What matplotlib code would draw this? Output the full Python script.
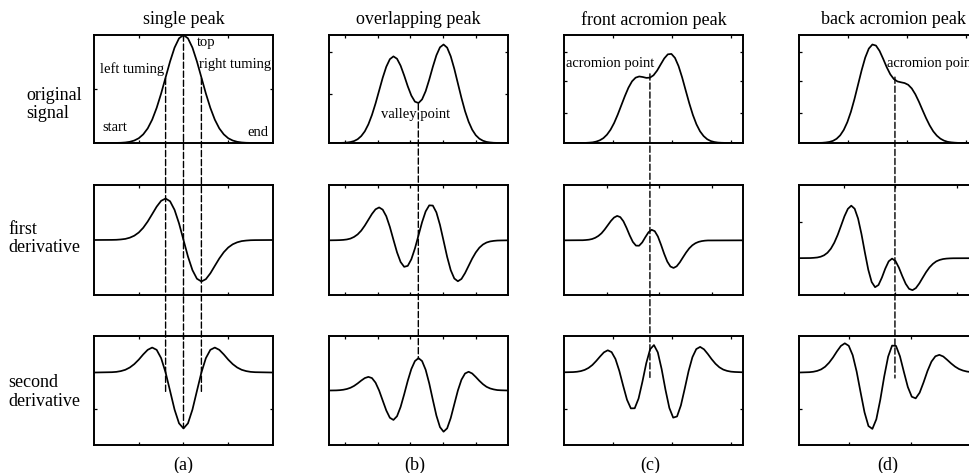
import matplotlib
matplotlib.use('Agg')
import matplotlib.pyplot as plt
from matplotlib.patches import ConnectionPatch

plt.rcParams['font.family'] = ['Liberation Serif', 'DejaVu Serif']

# ---------------- data (axis units 0..1) ----------------
col_titles = ['single peak', 'overlapping peak', 'front acromion peak', 'back acromion peak']
row_labels = ['original\nsignal', 'first\nderivative', 'second\nderivative']
panel_tags = ['(a)', '(b)', '(c)', '(d)']

# column (a) single peak
x_a = [0, 0.1, 0.125, 0.15, 0.175, 0.2, 0.225, 0.25, 0.275, 0.3, 0.325, 0.35, 0.375, 0.4,
       0.425, 0.45, 0.475, 0.5, 0.525, 0.55, 0.575, 0.6, 0.625, 0.65, 0.675, 0.7, 0.725,
       0.75, 0.775, 0.8, 0.825, 0.85, 0.875, 0.9, 1.0]
orig_a = [0, 0.000, 0.001, 0.002, 0.005, 0.011, 0.023, 0.044, 0.080, 0.135, 0.216, 0.325,
          0.458, 0.607, 0.755, 0.883, 0.969, 1.000, 0.969, 0.883, 0.755, 0.607, 0.458,
          0.325, 0.216, 0.135, 0.080, 0.044, 0.023, 0.011, 0.005, 0.002, 0.001, 0.000, 0]
d1_a = [0.5, 0.501, 0.502, 0.505, 0.510, 0.521, 0.539, 0.568, 0.611, 0.668, 0.735, 0.803,
        0.856, 0.877, 0.852, 0.774, 0.651, 0.500, 0.349, 0.226, 0.148, 0.123, 0.144, 0.197,
        0.265, 0.332, 0.389, 0.432, 0.461, 0.479, 0.490, 0.495, 0.498, 0.499, 0.5]
d2_a = [0.665, 0.668, 0.671, 0.678, 0.690, 0.711, 0.742, 0.783, 0.831, 0.873, 0.894, 0.873,
        0.797, 0.665, 0.496, 0.325, 0.199, 0.152, 0.199, 0.325, 0.496, 0.665, 0.797, 0.873,
        0.894, 0.873, 0.831, 0.783, 0.742, 0.711, 0.690, 0.678, 0.671, 0.668, 0.665]

# column (b) overlapping peak
x_b = [0, 0.04, 0.06, 0.08, 0.10, 0.12, 0.14, 0.16, 0.18, 0.20, 0.22, 0.24, 0.26, 0.28,
       0.30, 0.32, 0.34, 0.36, 0.38, 0.40, 0.42, 0.44, 0.46, 0.48, 0.50, 0.52, 0.54, 0.56,
       0.58, 0.60, 0.62, 0.64, 0.66, 0.68, 0.70, 0.72, 0.74, 0.76, 0.78, 0.80, 0.82, 0.84,
       0.86, 0.88, 0.90, 0.92, 0.94, 0.96, 1.0]
orig_b = [0, 0.000, 0.001, 0.002, 0.004, 0.009, 0.018, 0.035, 0.064, 0.108, 0.173, 0.260,
          0.366, 0.485, 0.604, 0.706, 0.776, 0.802, 0.780, 0.716, 0.625, 0.525, 0.439,
          0.383, 0.370, 0.404, 0.480, 0.587, 0.705, 0.812, 0.886, 0.912, 0.883, 0.803,
          0.687, 0.552, 0.417, 0.295, 0.197, 0.123, 0.072, 0.040, 0.021, 0.010, 0.005,
          0.002, 0.001, 0.000, 0]
d1_b = [0.497, 0.498, 0.499, 0.501, 0.505, 0.513, 0.528, 0.551, 0.585, 0.631, 0.684, 0.737,
        0.779, 0.796, 0.776, 0.716, 0.619, 0.502, 0.388, 0.300, 0.256, 0.265, 0.325, 0.423,
        0.542, 0.662, 0.760, 0.815, 0.813, 0.751, 0.637, 0.493, 0.347, 0.226, 0.150, 0.125,
        0.146, 0.199, 0.265, 0.331, 0.387, 0.430, 0.459, 0.477, 0.487, 0.492, 0.495, 0.496,
        0.497]
d2_b = [0.5, 0.501, 0.503, 0.507, 0.514, 0.525, 0.542, 0.565, 0.591, 0.614, 0.625, 0.614,
        0.572, 0.500, 0.408, 0.317, 0.250, 0.230, 0.264, 0.349, 0.465, 0.589, 0.697, 0.770,
        0.797, 0.770, 0.690, 0.565, 0.415, 0.270, 0.164, 0.122, 0.153, 0.247, 0.374, 0.500,
        0.599, 0.656, 0.672, 0.656, 0.624, 0.589, 0.558, 0.534, 0.519, 0.510, 0.504, 0.502,
        0.5]

# column (c) front acromion peak
x_c1 = [0, 0.08, 0.10, 0.12, 0.14, 0.16, 0.18, 0.20, 0.22, 0.24, 0.26, 0.28, 0.30, 0.32,
        0.34, 0.36, 0.38, 0.40, 0.42, 0.44, 0.46, 0.48, 0.50, 0.52, 0.54, 0.56, 0.58, 0.60,
        0.62, 0.64, 0.66, 0.68, 0.70, 0.72, 0.74, 0.76, 0.78, 0.80, 0.82, 0.84, 0.86, 0.88,
        0.90, 0.92, 1.0]
orig_c = [0, 0.000, 0.001, 0.001, 0.003, 0.006, 0.013, 0.025, 0.045, 0.077, 0.123, 0.185,
          0.262, 0.348, 0.434, 0.512, 0.571, 0.605, 0.616, 0.611, 0.603, 0.605, 0.627,
          0.670, 0.727, 0.783, 0.821, 0.825, 0.788, 0.712, 0.607, 0.486, 0.367, 0.260,
          0.173, 0.108, 0.064, 0.035, 0.018, 0.009, 0.004, 0.002, 0.001, 0.000, 0]
x_c2 = [0, 0.087, 0.1045, 0.122, 0.1395, 0.157, 0.1745, 0.192, 0.2095, 0.227, 0.2445,
        0.262, 0.2795, 0.297, 0.3145, 0.332, 0.3495, 0.367, 0.3845, 0.402, 0.4195, 0.437,
        0.4545, 0.472, 0.4895, 0.507, 0.5245, 0.542, 0.5595, 0.577, 0.5945, 0.612, 0.6295,
        0.647, 0.6645, 0.682, 0.6995, 0.717, 0.7345, 0.752, 0.7695, 0.787, 0.8045, 0.822,
        1.0]
d1_c = [0.497, 0.498, 0.498, 0.500, 0.503, 0.509, 0.520, 0.537, 0.561, 0.595, 0.634, 0.673,
        0.704, 0.719, 0.708, 0.670, 0.610, 0.542, 0.483, 0.449, 0.448, 0.478, 0.526, 0.570,
        0.593, 0.580, 0.532, 0.457, 0.375, 0.304, 0.259, 0.246, 0.261, 0.297, 0.342, 0.386,
        0.424, 0.452, 0.471, 0.483, 0.490, 0.494, 0.496, 0.496, 0.497]
x_c3 = [0, 0.051, 0.0725, 0.094, 0.1155, 0.137, 0.1585, 0.180, 0.2015, 0.223, 0.2445,
        0.266, 0.2875, 0.309, 0.3305, 0.352, 0.3735, 0.395, 0.4165, 0.438, 0.4595, 0.481,
        0.5025, 0.524, 0.5455, 0.567, 0.5885, 0.610, 0.6315, 0.653, 0.6745, 0.696, 0.7175,
        0.739, 0.7605, 0.782, 0.8035, 0.825, 0.8465, 0.868, 0.8895, 0.911, 0.9325, 0.954,
        1.0]
d2_c = [0.667, 0.669, 0.672, 0.678, 0.689, 0.707, 0.734, 0.771, 0.812, 0.850, 0.869, 0.852,
        0.789, 0.680, 0.544, 0.415, 0.336, 0.337, 0.426, 0.580, 0.750, 0.878, 0.917, 0.850,
        0.696, 0.506, 0.340, 0.251, 0.262, 0.363, 0.517, 0.678, 0.806, 0.880, 0.900, 0.878,
        0.835, 0.787, 0.745, 0.713, 0.692, 0.680, 0.673, 0.670, 0.667]

# column (d) back acromion peak
x_d1 = [0, 0.09, 0.11, 0.13, 0.15, 0.17, 0.19, 0.21, 0.23, 0.25, 0.27, 0.29, 0.31, 0.33,
        0.35, 0.37, 0.39, 0.41, 0.43, 0.45, 0.47, 0.49, 0.51, 0.53, 0.55, 0.57, 0.59, 0.61,
        0.63, 0.65, 0.67, 0.69, 0.71, 0.73, 0.75, 0.77, 0.79, 0.81, 0.83, 0.85, 0.87, 0.89,
        0.91, 0.93, 1.0]
orig_d = [0, 0.000, 0.001, 0.002, 0.005, 0.010, 0.020, 0.039, 0.071, 0.121, 0.193, 0.289,
          0.408, 0.541, 0.674, 0.791, 0.874, 0.912, 0.902, 0.853, 0.780, 0.702, 0.636,
          0.592, 0.570, 0.562, 0.555, 0.539, 0.505, 0.451, 0.382, 0.305, 0.230, 0.163,
          0.108, 0.068, 0.040, 0.022, 0.011, 0.006, 0.003, 0.001, 0.000, 0.000, 0]
x_d2 = [0, 0.064, 0.083, 0.102, 0.121, 0.140, 0.159, 0.178, 0.197, 0.216, 0.235, 0.254,
        0.273, 0.292, 0.311, 0.330, 0.349, 0.368, 0.387, 0.406, 0.425, 0.444, 0.463, 0.482,
        0.501, 0.520, 0.539, 0.558, 0.577, 0.596, 0.615, 0.634, 0.653, 0.672, 0.691, 0.710,
        0.729, 0.748, 0.767, 0.786, 0.805, 0.824, 0.843, 0.862, 1.0]
d1_d = [0.335, 0.336, 0.338, 0.341, 0.348, 0.361, 0.384, 0.421, 0.475, 0.546, 0.630, 0.716,
        0.783, 0.812, 0.784, 0.695, 0.554, 0.387, 0.230, 0.118, 0.071, 0.091, 0.158, 0.240,
        0.306, 0.331, 0.309, 0.249, 0.172, 0.102, 0.056, 0.044, 0.063, 0.105, 0.157, 0.208,
        0.251, 0.283, 0.306, 0.319, 0.327, 0.331, 0.333, 0.334, 0.335]
x_d3 = [0, 0.058, 0.080, 0.102, 0.124, 0.146, 0.168, 0.190, 0.212, 0.234, 0.256, 0.278,
        0.300, 0.322, 0.344, 0.366, 0.388, 0.410, 0.432, 0.454, 0.476, 0.498, 0.520, 0.542,
        0.564, 0.586, 0.608, 0.630, 0.652, 0.674, 0.696, 0.718, 0.740, 0.762, 0.784, 0.806,
        0.828, 0.850, 0.872, 0.894, 0.916, 0.938, 0.960, 0.982, 1.0]
d2_d = [0.665, 0.668, 0.672, 0.680, 0.694, 0.718, 0.755, 0.803, 0.859, 0.909, 0.933, 0.910,
        0.824, 0.674, 0.484, 0.300, 0.174, 0.148, 0.236, 0.414, 0.628, 0.811, 0.912, 0.909,
        0.814, 0.670, 0.532, 0.443, 0.428, 0.480, 0.575, 0.680, 0.765, 0.814, 0.827, 0.812,
        0.781, 0.748, 0.719, 0.697, 0.683, 0.674, 0.669, 0.667, 0.665]

# guide (dashed) lines per column: x, y in top panel, y in bottom panel
guide_x = [[0.40, 0.50, 0.60], [0.499], [0.48], [0.536]]
guide_top = [[0.60, 1.00, 0.60], [0.363], [0.64], [0.61]]
guide_bot = [[0.49, 0.152, 0.48], [0.79], [0.62], [0.615]]

# -------------------------------- layout --------------------------------
W, H = 970, 473
fig = plt.figure(figsize=(W / 100, H / 100), dpi=100)

col_left = [94, 329, 564, 799]
panel_w = 179
row_top = [35, 185, 336]
row_h = [108, 110, 109]

curves = [
    [(x_a, orig_a), (x_a, d1_a), (x_a, d2_a)],
    [(x_b, orig_b), (x_b, d1_b), (x_b, d2_b)],
    [(x_c1, orig_c), (x_c2, d1_c), (x_c3, d2_c)],
    [(x_d1, orig_d), (x_d2, d1_d), (x_d3, d2_d)],
]

xticks = [
    [[0.25, 0.5, 0.75]] * 3,
    [[0.089, 0.274, 0.453, 0.637, 0.821]] * 3,
    [[0.274, 0.603, 0.933], [0.24, 0.53, 0.827], [0.274, 0.603, 0.933]],
    [[0.274, 0.603, 0.933], [0.25, 0.536, 0.883], [0.28, 0.626, 0.97]],
]
yticks = [
    [[0.5], [], [0.33]],
    [[0.458, 0.84], [], []],
    [[0.278, 0.574, 0.843], [], [0.33]],
    [[0.278, 0.574, 0.843], [0.66], [0.33]],
]

axes = [[None] * 3 for _ in range(4)]
for c in range(4):
    for r in range(3):
        ax = fig.add_axes([col_left[c] / W, 1 - (row_top[r] + row_h[r]) / H,
                           panel_w / W, row_h[r] / H])
        xs, ys = curves[c][r]
        ax.plot(xs, ys, color='black', lw=1.25, solid_capstyle='round')
        ax.set_xlim(0, 1)
        ax.set_ylim(0, 1)
        ax.set_xticks(xticks[c][r])
        ax.set_yticks(yticks[c][r])
        ax.tick_params(direction='in', length=2.2, width=0.9, top=True, right=True,
                       labelbottom=False, labelleft=False)
        for s in ax.spines.values():
            s.set_linewidth(1.4)
        axes[c][r] = ax

# titles and tags
title_font = 13
for c in range(4):
    ax = axes[c][0]
    if c < 3:
        ax.text(0.5, 1 + (35 - 20) / 108, col_titles[c], transform=ax.transAxes,
                ha='center', va='center', fontsize=title_font)
    else:
        ax.text((821 - 799) / 179, 1 + (35 - 20) / 108, col_titles[c], transform=ax.transAxes,
                ha='left', va='center', fontsize=title_font)
tag_x = [183, 415, 650, 888]
for c in range(4):
    fig.text(tag_x[c] / W, 1 - 465 / H, panel_tags[c], ha='center', va='center',
             fontsize=title_font)

# row labels
row_label_pos = [(26, 104.5), (8, 238.5), (8, 392)]
for r in range(3):
    fig.text(row_label_pos[r][0] / W, 1 - row_label_pos[r][1] / H, row_labels[r],
             ha='left', va='center', fontsize=title_font, linespacing=1.1)

# annotations inside panels
small = 10.5
a0 = axes[0][0]
a0.text(0.575, 0.926, 'top', transform=a0.transAxes, ha='left', va='center', fontsize=small)
a0.text(0.034, 0.685, 'left tuming', transform=a0.transAxes, ha='left', va='center', fontsize=small)
a0.text(0.587, 0.731, 'right tuming', transform=a0.transAxes, ha='left', va='center', fontsize=small)
a0.text(0.045, 0.139, 'start', transform=a0.transAxes, ha='left', va='center', fontsize=small)
a0.text(0.855, 0.093, 'end', transform=a0.transAxes, ha='left', va='center', fontsize=small)
b0 = axes[1][0]
b0.text(0.29, 0.262, 'valley point', transform=b0.transAxes, ha='left', va='center', fontsize=small)
c0 = axes[2][0]
c0.text(0.011, 0.74, 'acromion point', transform=c0.transAxes, ha='left', va='center', fontsize=small)
d0 = axes[3][0]
d0.text(0.49, 0.74, 'acromion point', transform=d0.transAxes, ha='left', va='center',
        fontsize=small, clip_on=False)

# dashed guide lines crossing the three rows
for c in range(4):
    for gx, gt, gb in zip(guide_x[c], guide_top[c], guide_bot[c]):
        con = ConnectionPatch(xyA=(gx, gt), coordsA='data', axesA=axes[c][0],
                              xyB=(gx, gb), coordsB='data', axesB=axes[c][2],
                              color='black', lw=1.0, linestyle=(0, (4.5, 2.0)))
        fig.add_artist(con)

fig.savefig('out.png', dpi=100)
